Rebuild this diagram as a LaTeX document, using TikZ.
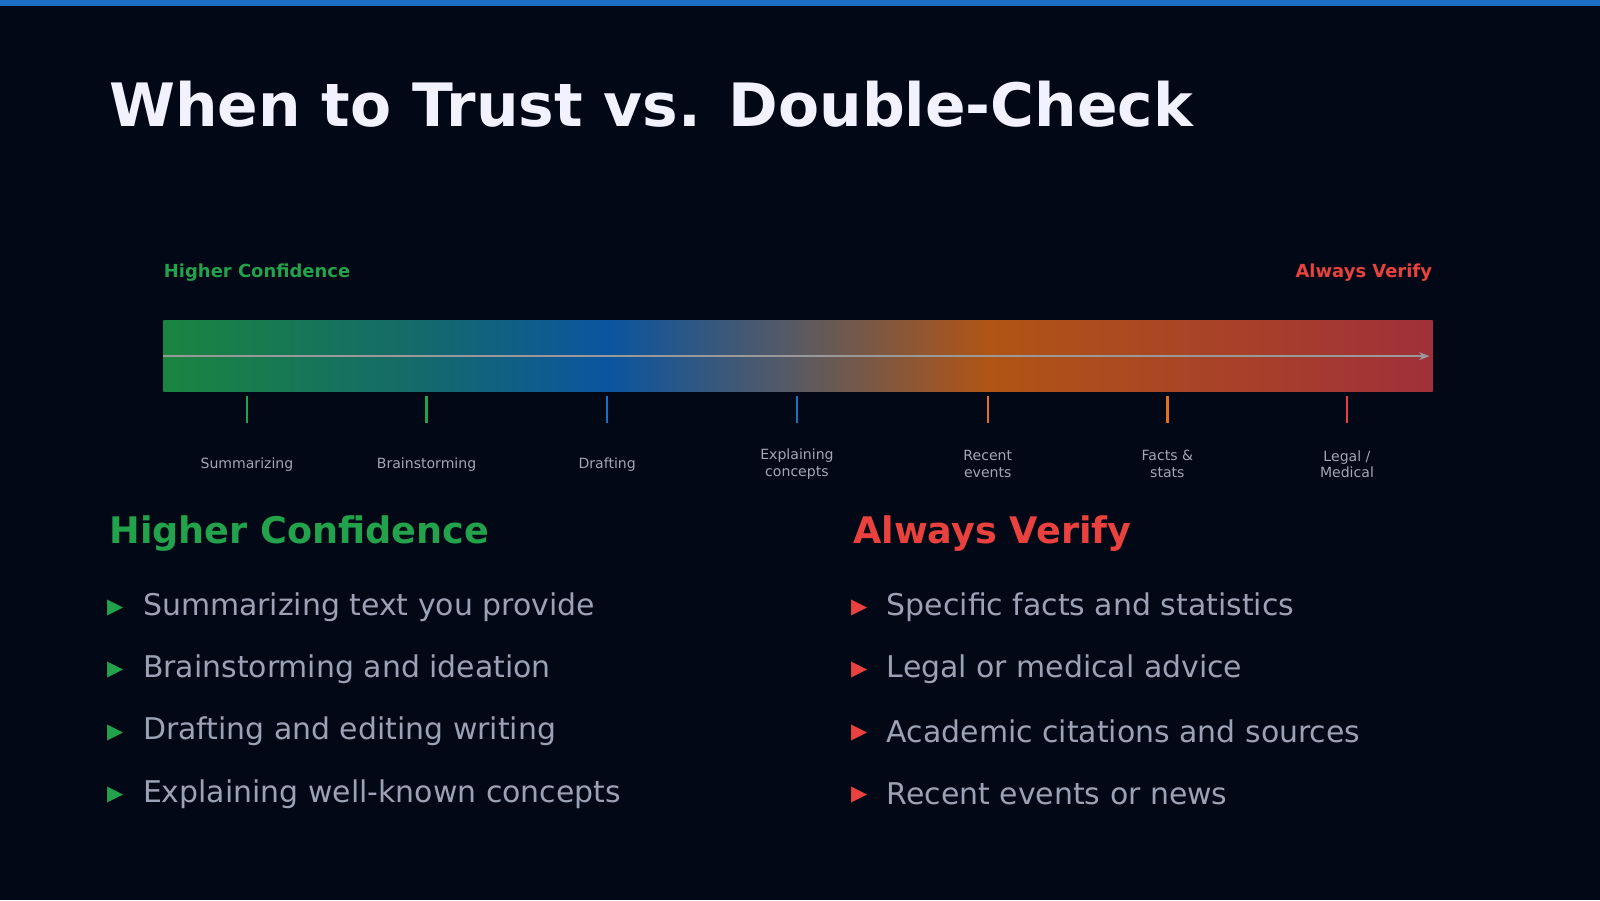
\documentclass[tikz,border=0pt]{standalone}
\usepackage{fontspec}
\setmainfont{DejaVu Sans}
\usetikzlibrary{positioning, arrows.meta}
\definecolor{bgdark}{HTML}{020816}
\definecolor{topblue}{HTML}{1A6FC4}
\definecolor{okgreen}{HTML}{22A24A}
\definecolor{warnred}{HTML}{E8413E}
\definecolor{tickblue}{HTML}{1E6FC0}
\definecolor{tickorange}{HTML}{E07020}
\definecolor{soft}{HTML}{9AA3B5}
\definecolor{labgray}{HTML}{A0A6B2}
\definecolor{sgreen}{HTML}{1A8540}
\definecolor{steal}{HTML}{146A6A}
\definecolor{sblue}{HTML}{0A55A0}
\definecolor{sgray}{HTML}{5A5A62}
\definecolor{sorange}{HTML}{B05515}
\definecolor{sredor}{HTML}{A8402A}
\definecolor{sred}{HTML}{A0303A}
\pgfdeclarehorizontalshading{trustbar}{100bp}{
	color(0bp)=(sgreen); color(25bp)=(sgreen); color(35bp)=(steal); color(42.5bp)=(sblue);
	color(50bp)=(sgray); color(57.5bp)=(sorange); color(67.5bp)=(sredor); color(75bp)=(sred); color(100bp)=(sred)}
\tikzset{
	heading/.style={font=\bfseries\fontsize{17}{20}\selectfont, text=white!95!blue, anchor=west},
	colhead/.style={font=\bfseries\fontsize{10.4}{12}\selectfont, anchor=west},
	item/.style={font=\fontsize{8.5}{10}\selectfont, text=soft, anchor=west},
	bullet/.style={font=\fontsize{6}{7}\selectfont, anchor=center},
	endlabel/.style={font=\bfseries\fontsize{5.1}{6}\selectfont},
	ticklabel/.style={font=\fontsize{4}{4.8}\selectfont, text=labgray, align=center},
	tick/.style={line width=0.7pt}
}
\begin{document}
\begin{tikzpicture}[x=0.0102cm, y=-0.0102cm]
	\fill[bgdark] (0,0) rectangle (1568,882);
	\useasboundingbox (0,0) rectangle (1568,882);
	\fill[topblue] (0,0) rectangle (1568,6);

	\node[heading] (title) at (95,102) {When to Trust vs. Double-Check};

	% scale bar
	\node[endlabel, text=okgreen, anchor=west, inner sep=0] (lo) at (160,267) {Higher Confidence};
	\node[endlabel, text=warnred, anchor=east, inner sep=0] (hi) at (1404,267) {Always Verify};
	\shade[shading=trustbar] (160,314) rectangle (1404,384);
	\coordinate (barL) at (160,349);
	\coordinate (barR) at (1401,349);
	\draw[gray!80, line width=0.5pt, -{Stealth[length=3pt]}] (barL) -- (barR);

	\foreach \x/\c/\t in {242/okgreen/Summarizing, 418/okgreen/Brainstorming, 595/tickblue/Drafting,
		781/tickblue/{Explaining\\concepts}, 968/tickorange/{Recent\\events}, 1144/tickorange/{Facts \&\\stats}, 1320/warnred/{Legal /\\Medical}} {
		\coordinate (t\x) at (\x,388);
		\coordinate (b\x) at (\x,415);
		\draw[tick, \c] (t\x) -- (b\x);
		\node[ticklabel] (l\x) at (\x,455) {\t};
	}

	% columns
	\node[colhead, text=okgreen] (hl) at (95,523) {Higher Confidence};
	\node[colhead, text=warnred] (hr) at (824,523) {Always Verify};
	\foreach \y/\a/\b in {594/Summarizing text you provide/Specific facts and statistics,
		655/Brainstorming and ideation/Legal or medical advice,
		716/Drafting and editing writing/Academic citations and sources,
		777/Explaining well-known concepts/Recent events or news} {
		\node[bullet, text=okgreen] (ml\y) at (113,\y+2) {▶};
		\node[item] (il\y) at (128,\y+1) {\a};
		\node[bullet, text=warnred] (mr\y) at (842,\y+2) {▶};
		\node[item] (ir\y) at (857,\y+1) {\b};
	}
\end{tikzpicture}
\end{document}
